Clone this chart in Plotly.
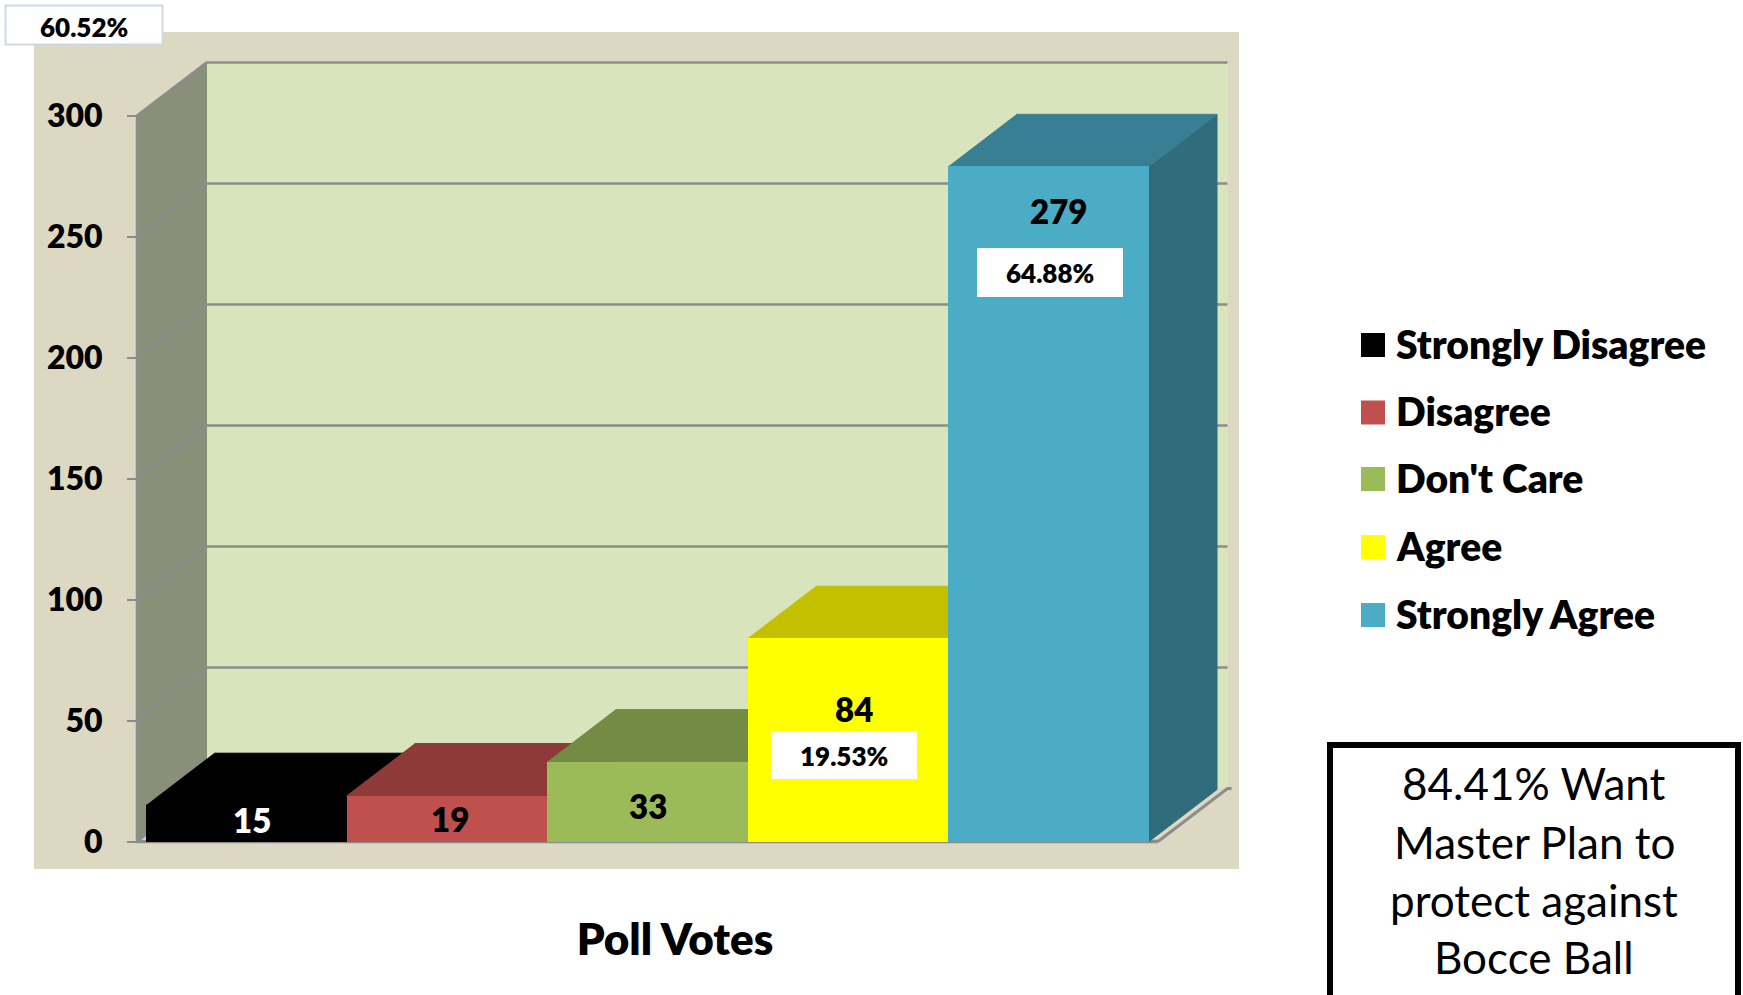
import plotly.graph_objects as go

# ---------- data ----------
categories = ["Strongly Disagree", "Disagree", "Don't Care", "Agree", "Strongly Agree"]
votes = [15, 19, 33, 84, 279]
y_ticks = [0, 50, 100, 150, 200, 250, 300]
axis_title = "Poll Votes"
pct_corner = "60.52%"
pct_agree = "19.53%"
pct_strong = "64.88%"
note_lines = ["84.41% Want", "Master Plan to", "protect against", "Bocce Ball"]

# ---------- style ----------
front = ["#000000", "#C0504D", "#9BBB59", "#FFFF00", "#4BACC6"]
top = ["#000000", "#8E3A38", "#738B42", "#C4C000", "#387F93"]
side = ["#000000", "#7A3230", "#637838", "#A8A500", "#316C7D"]
label_col = ["#FFFFFF", "#000000", "#000000", "#000000", "#000000"]
label_dx = [6, 3, 0, 6, 10]      # px shift from bar centre
label_dy = [15, 23, 44, 71, 45]  # px below bar top
BG, WALL, LWALL, GRID = "#DDD8C2", "#D7E4BC", "#8A8F79", "#8C8C8C"
FONT = "Lato"
HEAVY = 800

W, H = 1743, 995
PX_X0, PX_XU = 246.3, 200.6   # pixel of bar 0 centre, px per category
PX_Y0, PX_YU = 841.5, 2.42    # pixel of value 0, px per vote
x_range = [-PX_X0 / PX_XU, (W - PX_X0) / PX_XU]
y_range = [(PX_Y0 - H) / PX_YU, PX_Y0 / PX_YU]
DX, DY = 68 / PX_XU, 52 / PX_YU           # bar depth
WDX, WDY = 69.5 / PX_XU, 53 / PX_YU       # wall depth
XL = -0.5 - 9 / PX_XU                     # front left of the chart box
XR = 4.5 + 9 / PX_XU                      # front right of the chart box


def poly(xs, ys, color):
    return go.Scatter(x=xs, y=ys, mode="lines", fill="toself", fillcolor=color,
                      line=dict(width=1, color=color), hoverinfo="skip", showlegend=False)


def line(xs, ys, width=2.5):
    return go.Scatter(x=xs, y=ys, mode="lines", line=dict(color=GRID, width=width),
                      hoverinfo="skip", showlegend=False)


fig = go.Figure()
vmax = y_ticks[-1]

# walls and floor
fig.add_trace(poly([XL + WDX, XR + WDX, XR + WDX, XL + WDX], [WDY, WDY, vmax + WDY, vmax + WDY], WALL))
fig.add_trace(poly([XL, XL + WDX, XL + WDX, XL], [0, WDY, vmax + WDY, vmax], LWALL))
fig.add_trace(poly([XL, XR, XR + WDX, XL + WDX], [0, 0, WDY, WDY], BG))

# gridlines bent round the wall
for t in y_ticks[1:]:
    fig.add_trace(line([XL, XL + WDX, XR + WDX], [t, t + WDY, t + WDY]))
fig.add_trace(line([XL, XL], [0, vmax]))
fig.add_trace(line([XL, XL + WDX], [0, WDY]))
fig.add_trace(line([XR, XR + WDX, XR + WDX + 0.02], [0, WDY, WDY], 3))
fig.add_trace(line([XL, XR], [0, 0], 3.5))

# depth faces
for i, v in enumerate(votes):
    l, r = i - 0.5, i + 0.5
    fig.add_trace(poly([r, r + DX, r + DX, r], [0, DY, v + DY, v], side[i]))
    fig.add_trace(poly([l, r, r + DX, l + DX], [v, v, v + DY, v + DY], top[i]))

# front faces, on an overlaid copy of the axes
for i, (c, v) in enumerate(zip(categories, votes)):
    fig.add_trace(go.Bar(x=[i], y=[v], width=1, name=c, marker=dict(color=front[i], line=dict(width=0)),
                         xaxis="x2", yaxis="y2", hoverinfo="skip", showlegend=False))

annotations = []
shapes = [dict(type="rect", xref="paper", yref="paper", layer="below", x0=34 / W, x1=1239 / W,
               y0=1 - 869 / H, y1=1 - 32 / H, fillcolor=BG, line=dict(width=0))]


def px_text(text, cx, cy, size, color="#000000", weight=HEAVY):
    annotations.append(dict(text=text, xref="paper", yref="paper",
                            x=cx / W, y=1 - cy / H, xanchor="center", yanchor="middle", showarrow=False,
                            font=dict(family=FONT, size=size, color=color, weight=weight)))


def px_rect(x0, y0, x1, y1, fill, line_col=None, lw=0):
    shapes.append(dict(type="rect", xref="paper", yref="paper", x0=x0 / W, x1=x1 / W, y0=1 - y1 / H, y1=1 - y0 / H,
                       fillcolor=fill, line=dict(width=lw, color=line_col or fill)))


# value labels
for i, v in enumerate(votes):
    annotations.append(dict(text=str(v), x=i, y=v, xref="x", yref="y", showarrow=False,
                            xshift=label_dx[i], yshift=-label_dy[i], xanchor="center", yanchor="middle",
                            font=dict(family=FONT, size=33, color=label_col[i], weight=HEAVY)))

# percentage boxes
px_rect(5.5, 5.5, 162.5, 44.5, "#FFFFFF", "#D0D8E8", 2)
px_text(pct_corner, 84, 27, 26)
px_rect(771, 731, 917, 779, "#FFFFFF")
px_text(pct_agree, 844, 756, 26)
px_rect(977, 248, 1123, 297, "#FFFFFF")
px_text(pct_strong, 1050, 273, 26)

# legend
legend_y = [344, 411.5, 478, 546, 614]
for c, col, ly in zip(categories, front, legend_y):
    px_rect(1361, ly - 11, 1385, ly + 13, col)
    annotations.append(dict(text=c, xref="paper", yref="paper", x=1394 / W, y=1 - ly / H,
                            xanchor="left", yanchor="middle", showarrow=False,
                            font=dict(family=FONT, size=39, color="#000000", weight=HEAVY)))

# note box
px_rect(1330, 745, 1738, 1000, "#FFFFFF", "#000000", 6)
for s, ly in zip(note_lines, [783, 842, 900, 957]):
    px_text(s, 1534, ly, 44, weight=400)

fig.update_layout(
    width=W, height=H, margin=dict(l=0, r=0, t=0, b=0, pad=0), autosize=False,
    paper_bgcolor="#FFFFFF", plot_bgcolor="rgba(0,0,0,0)", barmode="overlay", bargap=0,
    showlegend=False, hovermode=False, font=dict(family=FONT, color="#000000"),
    title=dict(text=axis_title, x=675 / W, y=1 - 940 / H, xanchor="center", yanchor="middle",
               xref="paper", yref="paper", font=dict(family=FONT, size=44, color="#000000", weight=HEAVY)),
    xaxis=dict(range=x_range, visible=False, domain=[0, 1], fixedrange=True),
    yaxis=dict(range=y_range, domain=[0, 1], anchor="free", position=137 / W, side="left",
               tickmode="array", tickvals=y_ticks, ticks="outside", ticklen=10, tickwidth=2, tickcolor=GRID,
               ticklabelstandoff=18, showgrid=False, zeroline=False, showline=False, fixedrange=True,
               tickfont=dict(family=FONT, size=32, color="#000000", weight=HEAVY)),
    xaxis2=dict(range=x_range, visible=False, overlaying="x", fixedrange=True),
    yaxis2=dict(range=y_range, visible=False, overlaying="y", fixedrange=True),
    shapes=shapes, annotations=annotations,
)

fig.write_html("out.html", config=dict(displayModeBar=False),
               post_script="document.body.style.margin='0';document.body.style.overflow='hidden';")
